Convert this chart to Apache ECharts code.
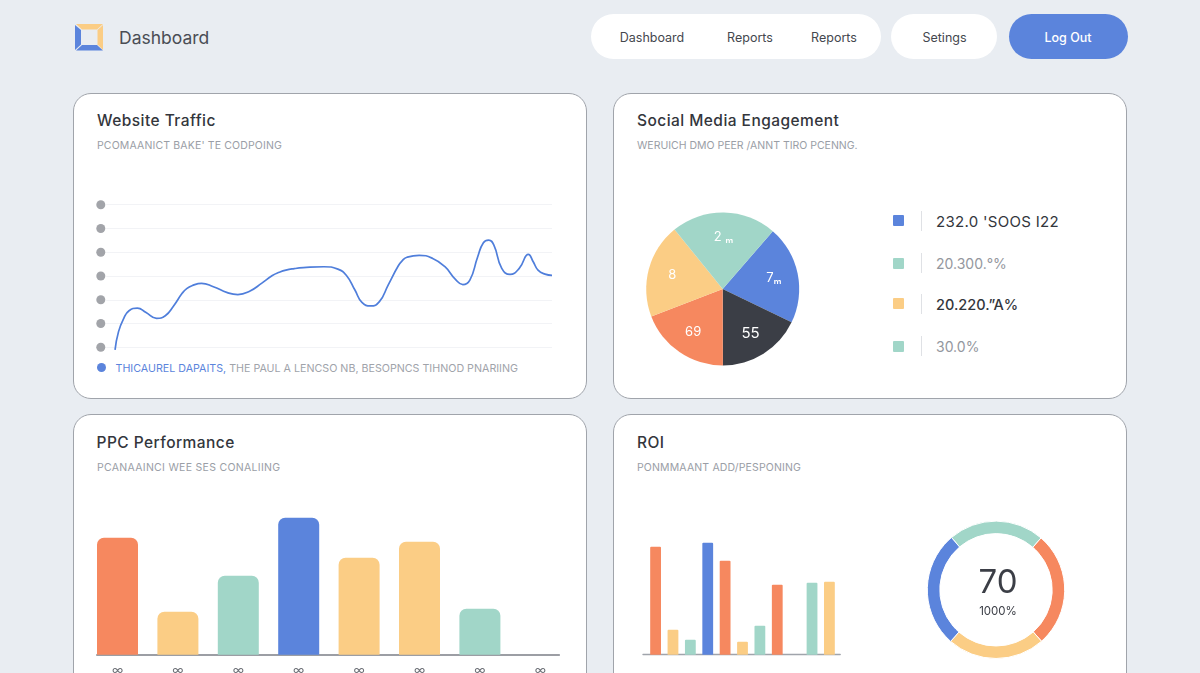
<!DOCTYPE html>
<html>
<head>
<meta charset="utf-8">
<title>Dashboard</title>
<script src="https://cdn.jsdelivr.net/npm/echarts@6/dist/echarts.min.js"></script>
<style>
  html, body { margin: 0; padding: 0; width: 1200px; height: 673px; overflow: hidden; background: #e9edf2; font-family: Inter, "Noto Sans", sans-serif; }
  .abs { position: absolute; white-space: nowrap; }
  .card { position: absolute; background: #fff; border: 1px solid #a0a4ab; border-radius: 18px; box-sizing: border-box; }
  .pill { position: absolute; top: 14px; height: 45px; border-radius: 23px; background: #fff; }
  .nav { position: absolute; top: 37px; transform: translate(-50%, -50%); font-size: 12.5px; color: #44474e; white-space: nowrap; }
  .title { font-size: 15.5px; font-weight: 500; color: #33363c; transform: translateY(-50%); letter-spacing: .45px; }
  .sub { font-size: 10.5px; color: #9a9ea6; transform: translateY(-50%); letter-spacing: .15px; }
  #chart { position: absolute; left: 0; top: 0; width: 1200px; height: 673px; }
</style>
</head>
<body>
<svg class="abs" style="left:75px;top:24px" width="29" height="27" viewBox="0 0 29 27">
  <polygon points="1,0 28,0 22,5.5 7,5.5" fill="#fbcd85"/>
  <polygon points="28,1 28,26 22.5,20.5 22.5,6" fill="#fbcd85"/>
  <polygon points="0,1 6,6 6,20.5 0,26" fill="#5b84dc"/>
  <polygon points="1,26.5 7,21 22,21 28,26.5" fill="#5b84dc"/>
</svg>
<div class="abs" style="left:119px;top:37px;transform:translateY(-50%);font-size:17.5px;color:#4a4d55">Dashboard</div>

<div class="pill" style="left:591px;width:290px"></div>
<div class="pill" style="left:891px;width:106px"></div>
<div class="pill" style="left:1009px;width:119px;background:#5b84dc"></div>
<div class="nav" style="left:652px">Dashboard</div>
<div class="nav" style="left:750px">Reports</div>
<div class="nav" style="left:834px">Reports</div>
<div class="nav" style="left:944.5px">Setings</div>
<div class="nav" style="left:1068px;color:#fff;font-weight:500">Log Out</div>

<div class="card" style="left:73px;top:93px;width:514px;height:306px"></div>
<div class="card" style="left:613px;top:93px;width:514px;height:306px"></div>
<div class="card" style="left:73px;top:414px;width:514px;height:300px"></div>
<div class="card" style="left:613px;top:414px;width:514px;height:300px"></div>

<div class="abs title" style="left:97px;top:120px">Website Traffic</div>
<div class="abs sub" style="left:97px;top:144.5px">PCOMAANICT BAKE' TE CODPOING</div>
<div class="abs title" style="left:637px;top:120px">Social Media Engagement</div>
<div class="abs sub" style="left:637px;top:144.5px;letter-spacing:0">WERUICH DMO PEER /ANNT TIRO PCENNG.</div>
<div class="abs title" style="left:96.5px;top:442px">PPC Performance</div>
<div class="abs sub" style="left:97px;top:466.5px;letter-spacing:.3px">PCANAAINCI WEE SES CONALIING</div>
<div class="abs title" style="left:637px;top:442px">ROI</div>
<div class="abs sub" style="left:637px;top:466.5px">PONMMAANT ADD/PESPONING</div>

<div class="abs" style="left:96.5px;top:363px;width:9px;height:9px;border-radius:50%;background:#5b84dc"></div>
<div class="abs" style="left:115.5px;top:367.5px;transform:translateY(-50%);font-size:10.7px;color:#a0a3aa"><span style="color:#5b84dc">THICAUREL DAPAITS,</span> THE PAUL A LENCSO NB, BESOPNCS TIHNOD PNARIING</div>

<div id="legend"></div>
<div id="chart"></div>

<script>
// website traffic line, x is 0-100 across the card
var trafficX = [0, 0.8, 2, 3.2, 5.1, 7.1, 9.5, 11.5, 13.4, 15.4, 16.4, 17.6, 19.8, 22.5, 25.7, 28.1, 30.8, 33.6, 36, 37.6, 39.1, 41, 43.1, 47.8, 51, 53, 54.9, 56.5, 58.5, 60.5, 62.5, 64.8, 65.8, 66.8, 69.6, 72.7, 75.5, 77.9, 79.6, 81.2, 83, 84.3, 85.5, 86.7, 88.5, 90.4, 92.5, 94.6, 95.7, 96.8, 98.4, 100];
var trafficY = [-0.11, 0.66, 1.22, 1.54, 1.65, 1.46, 1.22, 1.33, 1.74, 2.28, 2.47, 2.59, 2.69, 2.55, 2.3, 2.22, 2.36, 2.7, 3.02, 3.16, 3.25, 3.31, 3.35, 3.39, 3.29, 3.01, 2.41, 1.89, 1.74, 1.92, 2.62, 3.42, 3.66, 3.79, 3.87, 3.74, 3.39, 2.86, 2.64, 2.83, 3.81, 4.4, 4.51, 4.3, 3.32, 3.07, 3.32, 3.91, 3.6, 3.25, 3.08, 3.03];

var blue = '#5b84dc', green = '#a1d6c8', yellow = '#fbcd85', orange = '#f6885f', dark = '#3b3e46';

// social media pie
var pieValues = [20.8, 17.8, 19.2, 20.0, 22.2];
var pieColors = [blue, dark, orange, yellow, green];
var pieLabels = ['7\u2098', '55', '69', '8', '2 \u2098'];
var legendTexts = ['232.0 \'SOOS I22', '20.300.\u00b0%', '20.220.\u201dA%', '30.0%'];
var legendColors = [blue, green, yellow, green];

// ppc bars
var ppcCats = ['\u221e', '\u221e', '\u221e', '\u221e', '\u221e', '\u221e', '\u221e', '\u221e'];
var ppcValues = [117, 43, 79, 137, 97, 113, 46, null];
var ppcColors = [orange, yellow, green, blue, yellow, yellow, green, green];

// roi bars + donut
var roiCats = ['a', 'b', 'c', 'd', 'e', 'f', 'g', 'h', 'i', 'j', 'k'];
var roiValues = [108, 25, 15, 112, 94, 13, 29, 70, null, 72, 73];
var roiColors = [orange, yellow, green, blue, orange, yellow, green, orange, green, green, yellow];
var donutValues = [22.6, 27.1, 23.0, 27.3];
var donutColors = [green, orange, yellow, blue];

// pie legend is plain html, rows don't map 1:1 to the slices
var legendY = [220.7, 263.3, 303.7, 346];
var legendStyle = [
  'font-size:15px;color:#33363c;letter-spacing:.3px',
  'font-size:14px;color:#94979e',
  'font-size:14.5px;color:#33363c;font-weight:500',
  'font-size:14px;color:#94979e'
];
var legendEl = document.getElementById('legend');
legendTexts.forEach(function (t, i) {
  legendEl.innerHTML +=
    '<div class="abs" style="left:893px;top:' + (legendY[i] - 5.5) + 'px;width:11px;height:11px;border-radius:1px;background:' + legendColors[i] + '"></div>' +
    '<div class="abs" style="left:921px;top:' + (legendY[i] - 10) + 'px;width:1px;height:20px;background:#dfe1e5"></div>' +
    '<div class="abs" style="left:936px;top:' + legendY[i] + 'px;transform:translateY(-50%);' + legendStyle[i] + '">' + t + '</div>';
});

function withColors(values, colors, radius) {
  return values.map(function (v, i) {
    return { value: v, itemStyle: { color: colors[i], borderRadius: radius } };
  });
}

// flat axis with only the baseline, bars sit in their own grid
function baseline(idx, color, width) {
  return {
    gridIndex: idx, type: 'value', min: 0, max: 1,
    axisLine: { show: true, onZero: false, lineStyle: { color: color, width: width } },
    axisTick: { show: false }, axisLabel: { show: false }, splitLine: { show: false }
  };
}
function hiddenY(idx, max) {
  return { gridIndex: idx, type: 'value', min: 0, max: max, show: false };
}
function pxGrid(left, top, width, height) {
  // v6 shrinks grids when labels run off the canvas, the ppc labels do
  return { left: left, top: top, width: width, height: height, outerBoundsMode: 'none' };
}

var myChart = echarts.init(document.getElementById('chart'));

myChart.setOption({
  animation: false,
  textStyle: { fontFamily: 'Inter' },
  title: [
    { text: '70', left: 993, top: 578.5, textAlign: 'center', textVerticalAlign: 'middle',
      textStyle: { fontSize: 33, fontWeight: 400, color: '#3b3e46', fontFamily: 'Inter' } },
    { text: '1000%', left: 993, top: 607, textAlign: 'center', textVerticalAlign: 'middle',
      textStyle: { fontSize: 11.5, fontWeight: 400, color: '#3b3e46', fontFamily: 'Inter' } }
  ],
  grid: [
    pxGrid(106.3, 204.7, 445.7, 142.6),
    pxGrid(87.3, 504.7, 483.2, 150),
    pxGrid(646.9, 534.7, 191.2, 120),
    pxGrid(96.8, 604.7, 462.5, 50),
    pxGrid(643, 604.7, 197.2, 50)
  ],
  xAxis: [
    { gridIndex: 0, type: 'value', min: -2, max: 100, show: false },
    { gridIndex: 1, type: 'category', data: ppcCats,
      axisLine: { show: false }, axisTick: { show: false },
      axisLabel: { margin: 10, fontSize: 12, color: '#6a6d74', interval: 0 } },
    { gridIndex: 2, type: 'category', data: roiCats, show: false },
    baseline(3, '#7c7f87', 1.6),
    baseline(4, '#a0a4ab', 1.4)
  ],
  yAxis: [
    { gridIndex: 0, type: 'value', min: 0, max: 6, interval: 1,
      axisLine: { show: false }, axisTick: { show: false },
      splitLine: { lineStyle: { color: '#f2f3f6', width: 1 } },
      axisLabel: {
        margin: 1,
        formatter: function () { return '{dot|}'; },
        rich: { dot: { width: 9, height: 9, borderRadius: 4.5, backgroundColor: '#a2a4a9' } }
      } },
    hiddenY(1, 150),
    hiddenY(2, 120),
    hiddenY(3, 1),
    hiddenY(4, 1)
  ],
  series: [
    {
      type: 'line', xAxisIndex: 0, yAxisIndex: 0, smooth: 0.5, showSymbol: false, clip: false,
      lineStyle: { color: '#4f7edb', width: 1.7 },
      data: trafficX.map(function (x, i) { return [x, trafficY[i]]; })
    },
    {
      type: 'bar', xAxisIndex: 1, yAxisIndex: 1, barWidth: 41,
      data: withColors(ppcValues, ppcColors, [7, 7, 0, 0])
    },
    {
      type: 'bar', xAxisIndex: 2, yAxisIndex: 2, barWidth: 10.8,
      data: withColors(roiValues, roiColors, [1, 1, 0, 0])
    },
    {
      type: 'pie', center: [722.7, 289], radius: [0, 76.5], startAngle: 49.1,
      label: { show: false }, labelLine: { show: false }, silent: true,
      data: withColors(pieValues, pieColors, 0)
    },
    {
      // transparent ring on top so the labels sit further out than the default r/2
      type: 'pie', center: [722.7, 289], radius: [22, 76.5], startAngle: 49.1, silent: true,
      itemStyle: { color: 'transparent' }, labelLine: { show: false },
      label: { show: true, position: 'inside', color: '#fff', fontSize: 13, fontFamily: 'Inter',
        formatter: function (p) { return pieLabels[p.dataIndex]; } },
      data: pieValues.map(function (v, i) {
        return i === 1 ? { value: v, label: { fontSize: 15 } } : { value: v };
      })
    },
    {
      type: 'pie', center: [996, 589.8], radius: [56.2, 68.7], startAngle: 130.4, silent: true,
      label: { show: false }, labelLine: { show: false },
      itemStyle: { borderColor: '#fff', borderWidth: 1 },
      data: donutValues.map(function (v, i) {
        return { value: v, itemStyle: { color: donutColors[i] } };
      })
    }
  ]
});
</script>
</body>
</html>
